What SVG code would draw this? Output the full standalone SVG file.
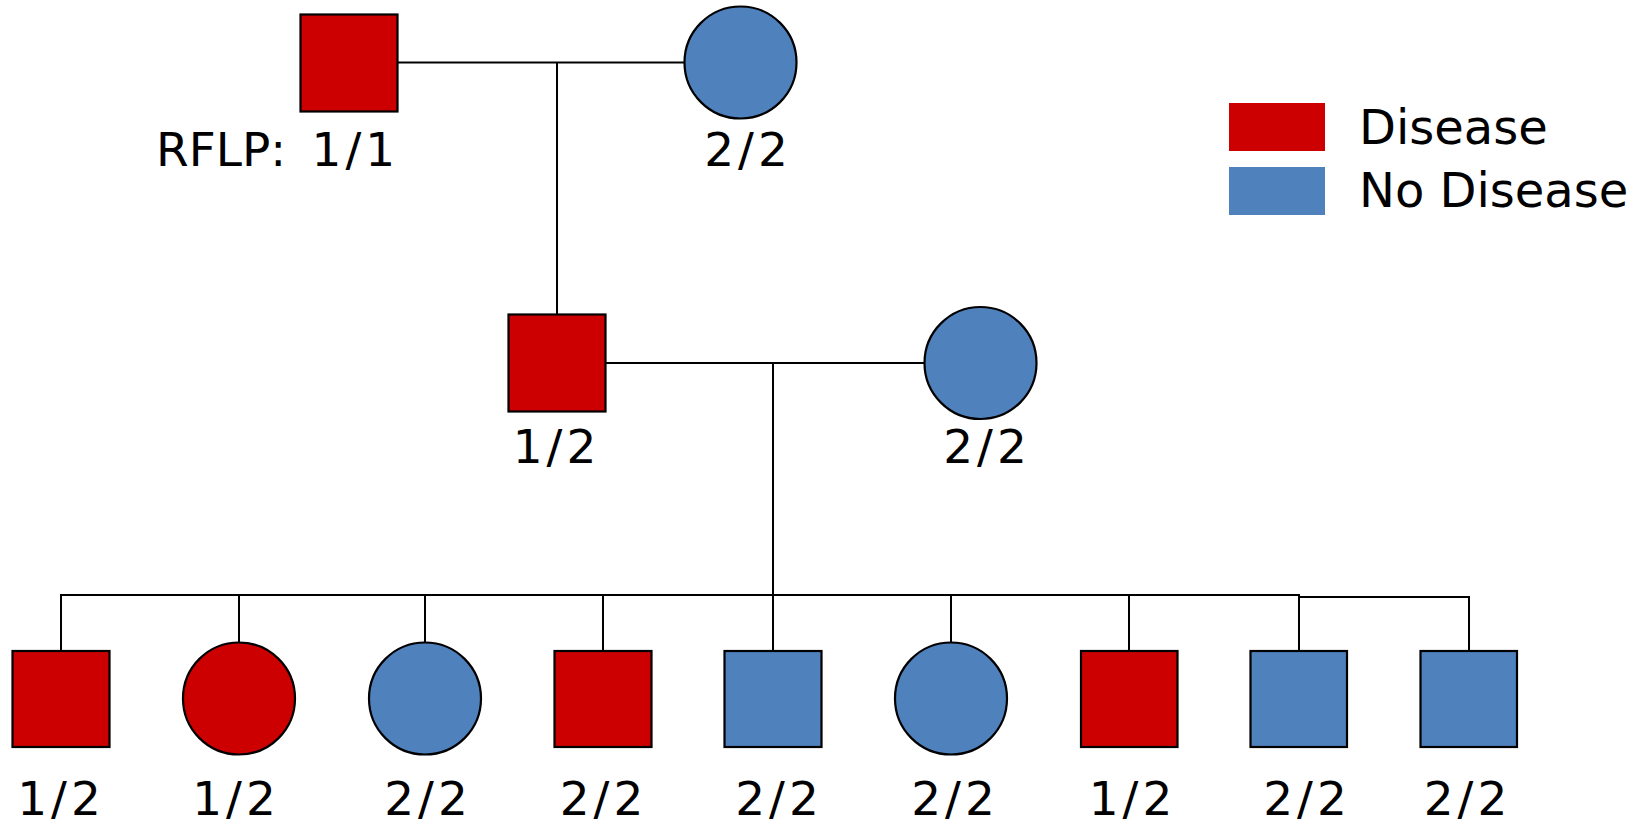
<svg xmlns="http://www.w3.org/2000/svg" width="1646" height="825" viewBox="0 0 1646 825">
<style>
.dis{fill:#CC0000;stroke:#000;stroke-width:2.2}
.nod{fill:#4F81BD;stroke:#000;stroke-width:2.2}
.ln{stroke:#000;stroke-width:2;fill:none}
.lb{font-family:"DejaVu Sans","Verdana",sans-serif;font-size:47px;fill:#000;text-anchor:middle;letter-spacing:4px}
.lg{font-family:"DejaVu Sans","Verdana",sans-serif;font-size:47px;fill:#000}
.leg{font-family:"DejaVu Sans","Verdana",sans-serif;font-size:48px;fill:#000}
</style>
<rect width="1646" height="825" fill="#fff"/>
<g id="connectors">
<line class="ln" x1="397" y1="62.5" x2="685" y2="62.5"/>
<line class="ln" x1="557" y1="62.5" x2="557" y2="314.5"/>
<line class="ln" x1="605" y1="363" x2="925" y2="363"/>
<line class="ln" x1="773" y1="363" x2="773" y2="651"/>
<line class="ln" x1="61" y1="595" x2="1299" y2="595"/>
<line class="ln" x1="1299" y1="597" x2="1470" y2="597"/>
<line class="ln" x1="61" y1="594" x2="61" y2="651"/>
<line class="ln" x1="239" y1="595" x2="239" y2="643"/>
<line class="ln" x1="425" y1="595" x2="425" y2="643"/>
<line class="ln" x1="603" y1="595" x2="603" y2="651"/>
<line class="ln" x1="951" y1="595" x2="951" y2="643"/>
<line class="ln" x1="1129" y1="595" x2="1129" y2="651"/>
<line class="ln" x1="1299" y1="594" x2="1299" y2="651"/>
<line class="ln" x1="1469" y1="596" x2="1469" y2="651"/>
</g>
<g id="g1-male">
<rect class="dis" x="300.5" y="14.5" width="97" height="97"/>
<text class="lg" x="156" y="166">RFLP: <tspan x="311.5" letter-spacing="4">1/1</tspan></text>
</g>
<g id="g1-female">
<circle class="nod" cx="740.5" cy="62.5" r="56"/>
<text class="lb" x="748" y="166">2/2</text>
</g>
<g id="g2-male">
<rect class="dis" x="508.5" y="314.5" width="97" height="97"/>
<text class="lb" x="556.5" y="463">1/2</text>
</g>
<g id="g2-female">
<circle class="nod" cx="980.5" cy="363" r="56"/>
<text class="lb" x="987" y="463">2/2</text>
</g>
<g id="c1">
<rect class="dis" x="12.5" y="651" width="97" height="96"/>
<text class="lb" x="61" y="815">1/2</text>
</g>
<g id="c2">
<circle class="dis" cx="239" cy="698.5" r="56"/>
<text class="lb" x="236" y="815">1/2</text>
</g>
<g id="c3">
<circle class="nod" cx="425" cy="698.5" r="56"/>
<text class="lb" x="428" y="815">2/2</text>
</g>
<g id="c4">
<rect class="dis" x="554.5" y="651" width="97" height="96"/>
<text class="lb" x="603.5" y="815">2/2</text>
</g>
<g id="c5">
<rect class="nod" x="724.5" y="651" width="97" height="96"/>
<text class="lb" x="779" y="815">2/2</text>
</g>
<g id="c6">
<circle class="nod" cx="951" cy="698.5" r="56"/>
<text class="lb" x="955" y="815">2/2</text>
</g>
<g id="c7">
<rect class="dis" x="1081" y="651" width="96.5" height="96"/>
<text class="lb" x="1132.5" y="815">1/2</text>
</g>
<g id="c8">
<rect class="nod" x="1250.5" y="651" width="96.5" height="96"/>
<text class="lb" x="1307" y="815">2/2</text>
</g>
<g id="c9">
<rect class="nod" x="1420.5" y="651" width="96.5" height="96"/>
<text class="lb" x="1467.5" y="815">2/2</text>
</g>
<g id="legend">
<rect x="1229" y="103" width="96" height="48" fill="#CC0000"/>
<rect x="1229" y="167" width="96" height="48" fill="#4F81BD"/>
<text class="leg" x="1359" y="144">Disease</text>
<text class="leg" x="1359" y="207">No Disease</text>
</g>
</svg>
